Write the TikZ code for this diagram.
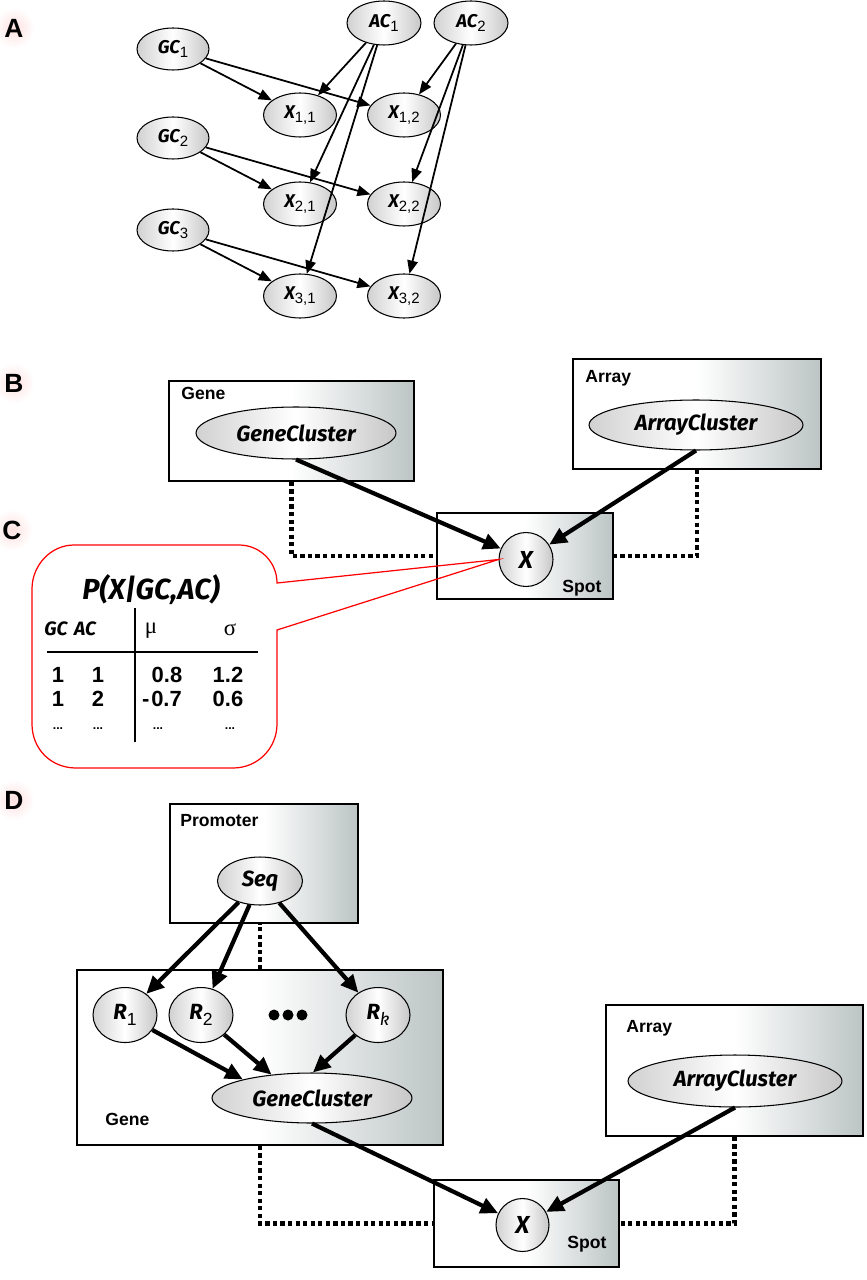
\documentclass[tikz,border=0pt]{standalone}
\usepackage{fontspec}
\setmainfont{Liberation Sans}
\newfontfamily\cm{Fira Sans}
\newfontfamily\grk{Liberation Serif}
\usetikzlibrary{shapes.geometric,arrows.meta}
\newcommand\mysub[1]{\raisebox{-0.45ex}{\normalfont\fontsize{8.5}{10}\selectfont#1}}
\newcommand\mysubR[1]{\raisebox{-0.45ex}{\normalfont\fontsize{10}{12}\selectfont#1}}
\definecolor{boxgray}{RGB}{188,196,196}
\begin{document}
\begin{tikzpicture}[x=0.02cm,y=-0.02cm,
  ell/.style={ellipse, draw, line width=0.6pt, inner sep=0pt, left color=black!18, right color=black!22, middle color=white, font=\cm\itshape\bfseries\fontsize{12.5}{15}\selectfont},
  ellA/.style={ell, font=\cm\itshape\bfseries\fontsize{10.5}{12}\selectfont},
  pbox/.style={rectangle, draw, line width=0.9pt, inner sep=0pt, left color=white, right color=boxgray, middle color=white},
  thinarrow/.style={line width=1pt, -{Triangle[length=7.5pt,width=6pt]}},
  thickarrow/.style={line width=2.4pt, -{Triangle[length=10pt,width=9pt]}},
  platelink/.style={line width=2.4pt, dash pattern=on 2.4pt off 1.9pt},
  lab/.style={font=\bfseries\fontsize{10}{12}\selectfont, inner sep=0pt},
  panel/.style={font=\bfseries\fontsize{15}{18}\selectfont, circle, inner sep=3pt, inner color=red!12, outer color=white},
  callout/.style={draw=red, line width=0.7pt},
  num/.style={font=\bfseries\fontsize{12.5}{15}\selectfont, inner sep=0pt},
  hdr/.style={font=\cm\itshape\bfseries\fontsize{11}{13}\selectfont, inner sep=0pt},
  grkhdr/.style={font=\grk\fontsize{13}{15}\selectfont, inner sep=0pt},
  dots/.style={font=\bfseries\fontsize{7}{8}\selectfont, inner sep=0pt},
  ]
\useasboundingbox (0,0) rectangle (866,1280);

% ---------------- Panel A ----------------
\node[panel] (labA) at (14,28) {A};
\node[ellA, minimum width=1.44cm, minimum height=0.84cm] (GC1) at (173,49) {GC\mysub{1}};
\node[ellA, minimum width=1.44cm, minimum height=0.84cm] (GC2) at (173,138) {GC\mysub{2}};
\node[ellA, minimum width=1.44cm, minimum height=0.84cm] (GC3) at (173,230) {GC\mysub{3}};
\node[ellA, minimum width=1.48cm, minimum height=0.88cm] (AC1) at (384,23) {AC\mysub{1}};
\node[ellA, minimum width=1.48cm, minimum height=0.88cm] (AC2) at (471,23) {AC\mysub{2}};
\foreach \i/\y in {1/115,2/204,3/296}{
  \node[ellA, minimum width=1.46cm, minimum height=0.88cm] (X\i1) at (300,\y) {X\mysub{\i,1}};
  \node[ellA, minimum width=1.46cm, minimum height=0.88cm] (X\i2) at (404,\y) {X\mysub{\i,2}};
}
\foreach \i in {1,2,3}{
  \draw[thinarrow] (GC\i) -- (X\i1);
  \draw[thinarrow] (GC\i) -- (X\i2);
  \draw[thinarrow] (AC1) -- (X\i1);
  \draw[thinarrow] (AC2) -- (X\i2);
}

% ---------------- Panel B ----------------
\node[panel] (labB) at (14,383) {B};
\node[pbox, minimum width=4.9cm, minimum height=2cm] (GeneB) at (291.5,431) {};
\node[lab, anchor=west] (GeneBt) at (181,393) {Gene};
\node[ell, minimum width=4cm, minimum height=1.04cm] (GCB) at (296,433) {GeneCluster};
\node[pbox, minimum width=4.96cm, minimum height=2.2cm] (ArrayB) at (697,414) {};
\node[lab, anchor=west] (ArrayBt) at (585,378) {Array};
\node[ell, minimum width=4.28cm, minimum height=1.0cm] (ACB) at (696,425) {ArrayCluster};
\node[pbox, minimum width=3.52cm, minimum height=1.72cm] (SpotB) at (525,556) {};
\node[lab] (SpotBt) at (582,588) {Spot};
\node[ell, circle, minimum size=1.08cm, font=\cm\itshape\bfseries\fontsize{14}{16}\selectfont] (XB) at (526,559.5) {X};
\draw[platelink] (GeneB.south) |- (SpotB.west);
\draw[platelink] (ArrayB.south) |- (SpotB.east);
\draw[thickarrow] (GCB.south) -- (XB);
\draw[thickarrow] (ACB.south) -- (XB);

% ---------------- Panel C ----------------
\node[panel] (labC) at (12,530) {C};
\coordinate (tip) at (XB.west);
\draw[callout] (74,545) -- (239,545) .. controls (260,545) and (277,562) .. (277,583)
  -- (tip) -- (277,630) -- (277,724) .. controls (277,748) and (258,768) .. (233,768)
  -- (76,768) .. controls (51,768) and (32,749) .. (32,724) -- (32,589)
  .. controls (32,565) and (51,545) .. (74,545) -- cycle;
\node[font=\cm\itshape\bfseries\fontsize{16.5}{19}\selectfont, inner sep=0pt] (Ptitle) at (151,590) {P(X|GC,AC)};
\node[hdr] (hGC) at (56,629) {GC};
\node[hdr] (hAC) at (85,629) {AC};
\node[grkhdr] (hmu) at (151,631) {μ};
\node[grkhdr] (hsig) at (230,630) {σ};
\draw[line width=1pt] (47,652) -- (258,652);
\draw[line width=1pt] (135,608) -- (135,742);
\node[num] (r1a) at (58,675) {1};
\node[num] (r1b) at (98,675) {1};
\node[num] (r1c) at (167,675) {0.8};
\node[num] (r1d) at (228,675) {1.2};
\node[num] (r2a) at (58,699) {1};
\node[num] (r2b) at (98,699) {2};
\node[num] (r2c) at (162,699) {-\kern1pt0.7};
\node[num] (r2d) at (228,699) {0.6};
\node[dots] (r3a) at (58,729) {...};
\node[dots] (r3b) at (98,729) {...};
\node[dots] (r3c) at (158,729) {...};
\node[dots] (r3d) at (230,729) {...};

% ---------------- Panel D ----------------
\node[panel] (labD) at (14,800) {D};
\node[pbox, minimum width=3.76cm, minimum height=2.38cm] (Prom) at (264,863.5) {};
\node[lab, anchor=west] (Promt) at (180,821) {Promoter};
\node[ell, minimum width=1.7cm, minimum height=0.96cm] (Seq) at (260,881) {Seq};
\node[pbox, minimum width=7.32cm, minimum height=3.5cm] (GeneD) at (260,1057.5) {};
\node[lab, anchor=west] (GeneDt) at (105,1119) {Gene};
\node[ell, minimum width=1.28cm, minimum height=1.1cm] (R1) at (125,1015) {R\mysubR{1}};
\node[ell, minimum width=1.28cm, minimum height=1.1cm] (R2) at (201,1015) {R\mysubR{2}};
\node[ell, minimum width=1.28cm, minimum height=1.1cm] (Rk) at (378,1015) {R\raisebox{-0.45ex}{\cm\itshape\mdseries\fontsize{10}{12}\selectfont k}};
\node[inner sep=0pt] (Rdots) at (288,1015) {\tikz[x=0.02cm,y=0.02cm]{\fill (0,0) circle (5.5) (14,0) circle (5.5) (28,0) circle (5.5);}};
\node[ell, minimum width=4cm, minimum height=1.0cm] (GCD) at (312,1098) {GeneCluster};
\node[pbox, minimum width=5.14cm, minimum height=2.62cm] (ArrayD) at (734.5,1070.5) {};
\node[lab, anchor=west] (ArrayDt) at (626,1028) {Array};
\node[ell, minimum width=4.28cm, minimum height=1.04cm] (ACD) at (735,1081) {ArrayCluster};
\node[pbox, minimum width=3.7cm, minimum height=1.74cm] (SpotD) at (526.5,1223.5) {};
\node[lab] (SpotDt) at (587,1244) {Spot};
\node[ell, circle, minimum size=1.06cm, font=\cm\itshape\bfseries\fontsize{14}{16}\selectfont] (XD) at (522.5,1225) {X};
\draw[platelink] (GeneD.north) -- (GeneD.north |- Prom.south);
\draw[platelink] (GeneD.south) |- (SpotD.west);
\draw[platelink] (ArrayD.south) |- (SpotD.east);
\draw[thickarrow] (Seq) -- (R1);
\draw[thickarrow] (Seq) -- (R2);
\draw[thickarrow] (Seq) -- (Rk);
\draw[thickarrow] (R1) -- (GCD.165);
\draw[thickarrow] (R2) -- (GCD.150);
\draw[thickarrow] (Rk) -- (GCD.88);
\draw[thickarrow] (GCD.south) -- (XD);
\draw[thickarrow] (ACD.south) -- (XD);
\end{tikzpicture}
\end{document}
